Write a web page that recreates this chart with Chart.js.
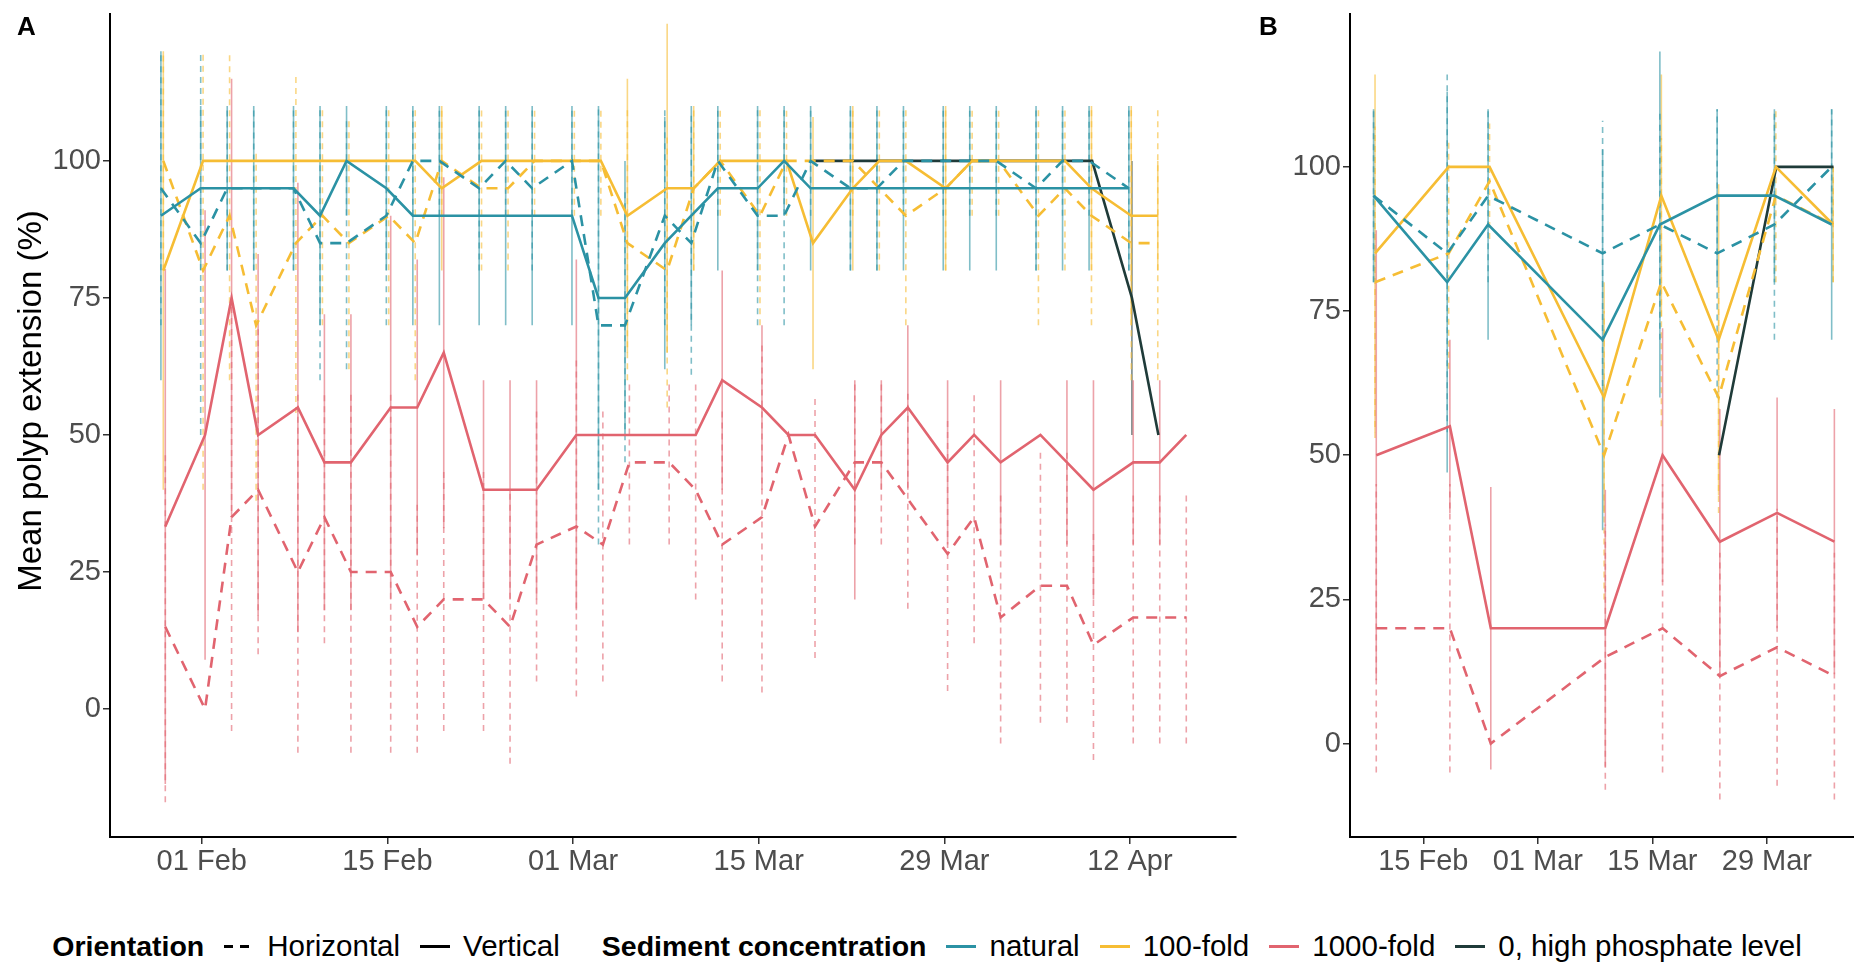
<!DOCTYPE html>
<html lang="en">
<head>
  <meta charset="UTF-8" />
  <title>Mean polyp extension</title>
  <script src="https://cdn.jsdelivr.net/npm/chart.js"></script>
  <style>
    body {
      margin: 0;
      background: #fff;
      font-family: "Liberation Sans", Arial, sans-serif;
      width: 1854px;
      height: 966px;
      position: relative;
      overflow: hidden;
    }
    #wrapA { position: absolute; left: 0; top: 0; }
    #wrapB { position: absolute; left: 1254px; top: 0; }
    .tag { position: absolute; font-weight: bold; font-size: 26px; color: #000; }
    #ytitle {
      position: absolute;
      left: 30px;
      top: 401px;
      transform: translate(-50%, -50%) rotate(-90deg);
      font-size: 33px;
      color: #000;
      white-space: nowrap;
    }
    #legend {
      position: absolute;
      top: 929px;
      left: 0;
      width: 1854px;
      display: flex;
      justify-content: center;
      align-items: center;
      font-size: 29.5px;
      color: #000;
      white-space: nowrap;
    }
    #legend b { margin-right: 20px; font-size: 28.5px; }
    #legend .key {
      display: inline-block;
      width: 30px;
      height: 3px;
      background: #000;
      margin-right: 13px;
    }
    #legend .key.dash {
      background: repeating-linear-gradient(to right, #000 0 9px, transparent 9px 16px);
    }
    #legend .lab { margin-right: 20px; }
    #legend .grp { margin-left: 22px; }
  </style>
</head>
<body>
  <div id="wrapA"><canvas id="chartA" width="1250" height="900"></canvas></div>
  <div id="wrapB"><canvas id="chartB" width="600" height="900"></canvas></div>
  <div class="tag" style="left:17px; top:11px;">A</div>
  <div class="tag" style="left:1259px; top:11px;">B</div>
  <div id="ytitle">Mean polyp extension (%)</div>

  <div id="legend">
    <b>Orientation</b>
    <span class="key dash"></span><span class="lab">Horizontal</span>
    <span class="key"></span><span class="lab">Vertical</span>
    <b class="grp">Sediment concentration</b>
    <span class="key" style="background:#2B92A4"></span><span class="lab">natural</span>
    <span class="key" style="background:#F6BD34"></span><span class="lab">100-fold</span>
    <span class="key" style="background:#E1646F"></span><span class="lab">1000-fold</span>
    <span class="key" style="background:#1F3B39"></span><span>0, high phosphate level</span>
  </div>

  <script>
    // x values are days counted from 1 February
    const ticksA = [0, 14, 28, 42, 56, 70];
    const tickLabelsA = ['01 Feb', '15 Feb', '01 Mar', '15 Mar', '29 Mar', '12 Apr'];
    const ticksB = [14, 28, 42, 56];
    const tickLabelsB = ['15 Feb', '01 Mar', '15 Mar', '29 Mar'];
    const yTicks = [0, 25, 50, 75, 100];

    // panel A
    const daysA = [-3, 0, 2, 4, 7, 9, 11, 14, 16, 18, 21, 23, 25, 28, 30, 32, 35, 37, 39, 42, 44, 46, 49, 51, 53, 56, 58, 60, 63, 65, 67, 70, 72, 74];

    const naturalVertA = [90, 95, 95, 95, 95, 90, 100, 95, 90, 90, 90, 90, 90, 90, 75, 75, 85, 90, 95, 95, 100, 95, 95, 95, 95, 95, 95, 95, 95, 95, 95, 95, null, null];
    const naturalVertSdA = [30, 15, 15, 15, 15, 20, 10, 15, 20, 20, 20, 20, 20, 20, 35, 25, 23, 20, 15, 15, 10, 15, 15, 15, 15, 15, 15, 15, 15, 15, 15, 15, 0, 0];
    const naturalHorA = [95, 85, 95, 95, 95, 85, 85, 90, 100, 100, 95, 100, 95, 100, 70, 70, 90, 85, 100, 90, 90, 100, 95, 95, 100, 100, 100, 100, 95, 100, 100, 95, null, null];
    const naturalHorSdA = [25, 35, 15, 15, 15, 25, 23, 20, 10, 10, 15, 10, 15, 10, 40, 25, 20, 24, 10, 20, 20, 10, 15, 15, 10, 10, 10, 10, 15, 10, 10, 15, 0, 0];

    const fold100VertA = [80, 100, 100, 100, 100, 100, 100, 100, 100, 95, 100, 100, 100, 100, 100, 90, 95, 95, 100, 100, 100, 85, 95, 100, 100, 95, 100, 100, 100, 100, 95, 90, 90, null];
    const fold100VertSdA = [40, 0, 0, 0, 0, 0, 0, 0, 0, 15, 0, 0, 0, 0, 0, 25, 30, 15, 0, 0, 0, 23, 15, 0, 0, 15, 0, 0, 0, 0, 15, 20, 10, 0];
    const fold100HorA = [100, 80, 90, 70, 85, 90, 85, 90, 85, 100, 95, 95, 100, 100, 100, 85, 80, 95, 100, 90, 100, 100, 100, 95, 90, 95, 100, 100, 90, 95, 90, 85, 85, null];
    const fold100HorSdA = [20, 40, 30, 32, 31, 20, 23, 20, 25, 10, 15, 15, 10, 10, 10, 25, 25, 15, 10, 20, 10, 0, 10, 15, 20, 15, 10, 10, 20, 15, 20, 25, 25, 0];

    const fold1000VertA = [33.3, 50, 75, 50, 55, 45, 45, 55, 55, 65, 40, 40, 40, 50, 50, 50, 50, 50, 60, 55, 50, 50, 40, 50, 55, 45, 50, 45, 50, 45, 40, 45, 45, 50];
    const fold1000VertSdA = [47, 41, 40, 33, 41, 27, 27, 35, 27, 32, 20, 20, 20, 32, 0, 0, 0, 0, 20, 15, 0, 0, 20, 10, 15, 15, 0, 15, 0, 15, 20, 15, 15, 0];
    const fold1000HorA = [15, 0, 35, 40, 25, 35, 25, 25, 15, 20, 20, 15, 30, 33.3, 30, 45, 45, 40, 30, 35, 50, 33.3, 45, 45, 38.3, 28.3, 35, 16.7, 22.5, 22.5, 11.7, 16.7, 16.7, 16.7];
    const fold1000HorSdA = [32, 0, 39, 30, 33, 23, 33, 33, 23, 24, 24, 25, 25, 31, 25, 15, 15, 20, 25, 32, 0, 24, 15, 15, 20, 25, 23, 23, 25, 25, 21, 23, 23, 23];

    const phosphateVertA = [null, null, null, null, null, null, null, null, null, null, null, null, null, null, null, null, null, null, null, null, null, 100, 100, 100, 100, 100, 100, 100, 100, 100, 100, 75, 50, null];
    const phosphateVertSdA = [0, 0, 0, 0, 0, 0, 0, 0, 0, 0, 0, 0, 0, 0, 0, 0, 0, 0, 0, 0, 0, 0, 0, 0, 0, 0, 0, 0, 0, 0, 0, 25, 0, 0];

    // panel B
    const daysB = [8, 17, 22, 36, 43, 50, 57, 64];

    const naturalVertB = [95, 80, 90, 70, 90, 95, 95, 90];
    const naturalVertSdB = [15, 33, 20, 33, 30, 15, 15, 20];
    const naturalHorB = [95, 85, 95, 85, 90, 85, 90, 100];
    const naturalHorSdB = [15, 31, 15, 23, 20, 25, 20, 10];
    const fold100VertB = [85, 100, 100, 60, 95, 70, 100, 90];
    const fold100VertSdB = [31, 0, 0, 20, 21, 27, 0, 10];
    const fold100HorB = [80, 85, 97.5, 50, 80, 60, 95, 90];
    const fold100HorSdB = [27, 20, 10, 25, 25, 20, 15, 10];
    const fold1000VertB = [50, 55, 20, 20, 50, 35, 40, 35];
    const fold1000VertSdB = [39, 15, 24.5, 24, 22, 23, 20, 23];
    const fold1000HorB = [20, 20, 0, 15, 20, 11.7, 16.7, 11.7];
    const fold1000HorSdB = [25, 25, 0, 23, 25, 21.4, 24, 21.4];
    const phosphateVertB = [null, null, null, null, null, 50, 100, 100];
    const phosphateVertSdB = [0, 0, 0, 0, 0, 0, 0, 0];

    const TEAL = '#2B92A4';
    const YELLOW = '#F6BD34';
    const RED = '#E1646F';
    const DARK = '#1F3B39';

    Chart.defaults.font.family = '"Liberation Sans", Arial, sans-serif';

    function fade(hex, a) {
      const n = parseInt(hex.slice(1), 16);
      return `rgba(${(n >> 16) & 255}, ${(n >> 8) & 255}, ${n & 255}, ${a})`;
    }

    function series(values, sd, color, dashed, dodge) {
      return { values, sd, color, dashed, dodge };
    }

    function makeDatasets(days, list) {
      const out = [];
      list.forEach(s => {
        const pts = [];
        const bars = [];
        days.forEach((d, i) => {
          const v = s.values[i];
          if (v === null || v === undefined) return;
          const x = d + s.dodge;
          pts.push({ x: x, y: v });
          const e = s.sd[i];
          if (e > 0) {
            bars.push({ x: x, y: v - e }, { x: x, y: v + e }, { x: x, y: null });
          }
        });
        out.push({
          data: bars,
          borderColor: fade(s.color, 0.6),
          borderWidth: 1.6,
          borderDash: s.dashed ? [6, 5] : [],
          pointRadius: 0,
          spanGaps: false,
          order: 2
        });
        out.push({
          data: pts,
          borderColor: s.color,
          borderWidth: 2.6,
          borderDash: s.dashed ? [11, 8] : [],
          pointRadius: 0,
          order: 1
        });
      });
      return out;
    }

    function buildPanel(id, datasets, opt) {
      const tickFont = { size: 29 };
      new Chart(document.getElementById(id), {
        type: 'line',
        data: { datasets: datasets },
        options: {
          responsive: false,
          animation: false,
          events: [],
          layout: { padding: { left: 0, top: 14, right: opt.padRight, bottom: 0 } },
          plugins: { legend: { display: false }, tooltip: { enabled: false } },
          scales: {
            x: {
              type: 'linear',
              min: opt.xMin,
              max: opt.xMax,
              afterBuildTicks: s => { s.ticks = opt.xTicks.map(v => ({ value: v })); },
              afterFit: s => { s.height = 63; s.paddingLeft = 0; s.paddingRight = 0; },
              ticks: {
                callback: (v, i) => opt.xLabels[i],
                color: '#4D4D4D',
                font: tickFont,
                padding: 1,
                maxRotation: 0,
                autoSkip: false
              },
              grid: { drawOnChartArea: false, drawTicks: true, tickLength: 7, color: '#333', lineWidth: 1.5 },
              border: { display: true, color: '#000', width: 2 }
            },
            y: {
              type: 'linear',
              min: opt.yMin,
              max: opt.yMax,
              afterBuildTicks: s => { s.ticks = yTicks.map(v => ({ value: v })); },
              afterFit: s => { s.width = opt.yWidth; s.paddingTop = 0; s.paddingBottom = 0; },
              ticks: { color: '#4D4D4D', font: tickFont, padding: 2 },
              grid: { drawOnChartArea: false, drawTicks: true, tickLength: 7, color: '#333', lineWidth: 1.5 },
              border: { display: true, color: '#000', width: 2 }
            }
          }
        }
      });
    }

    const dsA = makeDatasets(daysA, [
      series(fold1000HorA, fold1000HorSdA, RED, true, 0.25),
      series(fold1000VertA, fold1000VertSdA, RED, false, 0.25),
      series(naturalHorA, naturalHorSdA, TEAL, true, -0.08),
      series(naturalVertA, naturalVertSdA, TEAL, false, -0.08),
      series(fold100HorA, fold100HorSdA, YELLOW, true, 0.1),
      series(fold100VertA, fold100VertSdA, YELLOW, false, 0.1),
      series(phosphateVertA, phosphateVertSdA, DARK, false, 0.15)
    ]);

    const dsB = makeDatasets(daysB, [
      series(fold1000HorB, fold1000HorSdB, RED, true, 0.25),
      series(fold1000VertB, fold1000VertSdB, RED, false, 0.25),
      series(naturalHorB, naturalHorSdB, TEAL, true, -0.08),
      series(naturalVertB, naturalVertSdB, TEAL, false, -0.08),
      series(fold100HorB, fold100HorSdB, YELLOW, true, 0.1),
      series(fold100VertB, fold100VertSdB, YELLOW, false, 0.1),
      series(phosphateVertB, phosphateVertSdB, DARK, false, 0.15)
    ]);

    buildPanel('chartA', dsA, {
      xMin: -6.92, xMax: 78.0, yMin: -23.35, yMax: 126.8,
      xTicks: ticksA, xLabels: tickLabelsA,
      yWidth: 110, padRight: 14
    });

    buildPanel('chartB', dsB, {
      xMin: 5.04, xMax: 66.65, yMin: -16.2, yMax: 126.5,
      xTicks: ticksB, xLabels: tickLabelsB,
      yWidth: 96, padRight: 0
    });
  </script>
</body>
</html>
